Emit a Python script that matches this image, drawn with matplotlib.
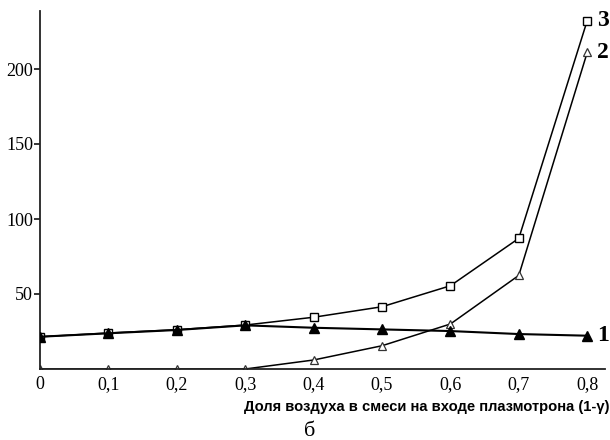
import matplotlib
matplotlib.use('Agg')
import matplotlib.pyplot as plt
from matplotlib.ticker import FuncFormatter

# air fraction at plasmatron inlet
air_share = [0, 0.1, 0.2, 0.3, 0.4, 0.5, 0.6, 0.7, 0.8]
curve_1 = [21.5, 23.8, 26.0, 29.1, 27.5, 26.4, 25.3, 23.3, 22.2]
curve_2 = [0, 0, 0, 0, 6.0, 15.5, 30.0, 62.4, 211.0]
curve_3 = [21.5, 24.0, 26.2, 29.3, 34.5, 41.5, 55.5, 87.1, 232.2]
y_ticks = [50, 100, 150, 200]

serif = 'Liberation Serif'

fig = plt.figure(figsize=(6.1, 4.4), dpi=100)
ax = fig.add_axes([40 / 610, 1 - 369 / 440, 565 / 610, 358 / 440])

ax.plot(air_share, curve_2, color='black', lw=1.1, marker='^', ms=6,
        mfc='white', mec='#333333', mew=0.9, zorder=2)
ax.plot(air_share, curve_3, color='black', lw=1.1, marker='s', ms=5.5,
        mfc='white', mec='black', mew=1.0, zorder=2)
ax.plot(air_share, curve_1, color='black', lw=1.5, marker='^', ms=6.5,
        mfc='black', mec='black', zorder=3)

ax.set_xlim(0, 565 / 684)
ax.set_ylim(0, 358 / 1.5)
ax.set_xticks(air_share)
ax.set_yticks(y_ticks)
ax.xaxis.set_major_formatter(FuncFormatter(
    lambda v, p: '0' if v == 0 else f'{v:.1f}'.replace('.', ',')))

for s in ['top', 'right']:
    ax.spines[s].set_visible(False)
for s in ['left', 'bottom']:
    ax.spines[s].set_linewidth(1.3)
    ax.spines[s].set_color('#222222')
ax.tick_params(axis='both', direction='out', length=4, width=1.1,
               labelsize=13, pad=1)
ax.tick_params(axis='x', length=0, pad=5)
for lab in ax.get_xticklabels() + ax.get_yticklabels():
    lab.set_family(serif)

# curve labels
for val, txt in [(curve_1[-1], '1'), (curve_2[-1], '2'), (curve_3[-1], '3')]:
    ax.annotate(txt, (air_share[-1], val), xytext=(7, 0),
                textcoords='offset points', va='center', ha='left',
                fontsize=17, fontweight='bold', family=serif,
                annotation_clip=False)

fig.text(609 / 610, 1 - 407 / 440,
         'Доля воздуха в смеси на входе плазмотрона (1-γ)',
         ha='right', va='center', fontsize=10.6, fontweight='bold',
         family=['Liberation Sans Narrow', 'Liberation Sans', 'DejaVu Sans'])
fig.text(310 / 610, 1 - 431 / 440, 'б', ha='center', va='center',
         fontsize=16, family=serif)

fig.savefig('out.png', dpi=100)
